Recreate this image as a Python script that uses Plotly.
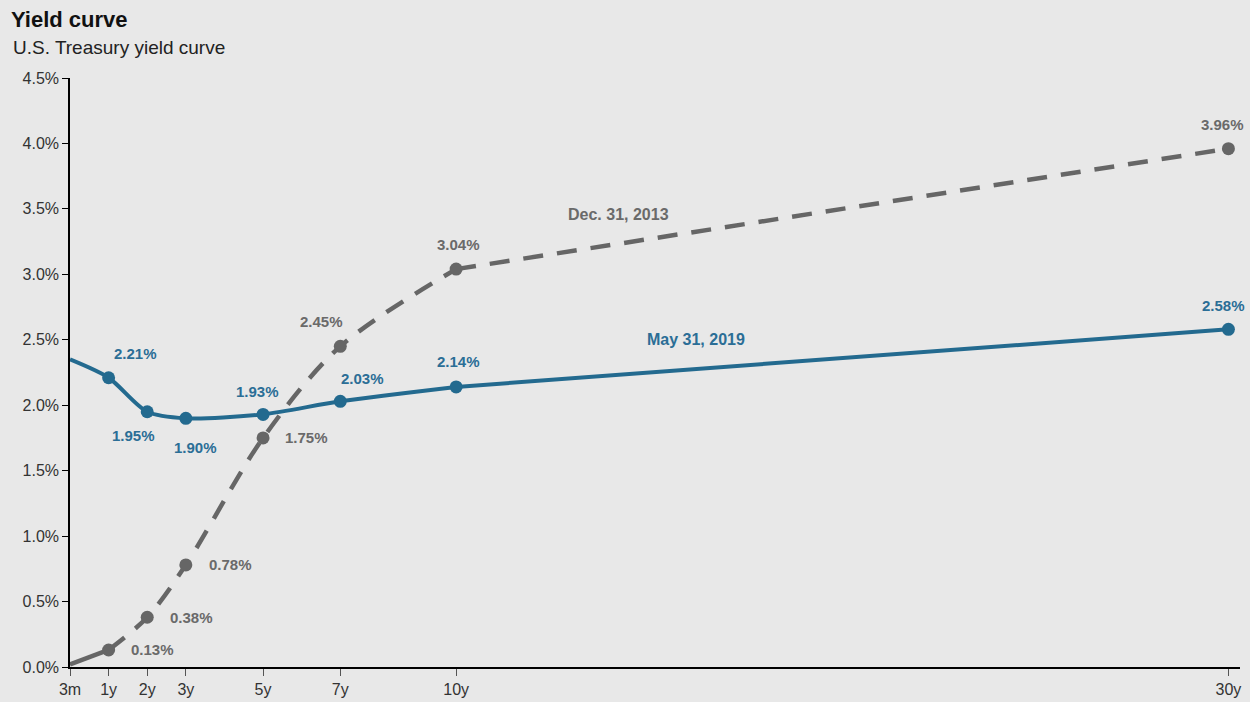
import plotly.graph_objects as go

tenor_labels = ["3m", "1y", "2y", "3y", "5y", "7y", "10y", "30y"]
tenor_pos = [0, 1, 2, 3, 5, 7, 10, 30]
may_2019 = [2.35, 2.21, 1.95, 1.90, 1.93, 2.03, 2.14, 2.58]
dec_2013 = [0.02, 0.13, 0.38, 0.78, 1.75, 2.45, 3.04, 3.96]

blue = "#236a8f"
gray = "#666666"
blue_txt = "#2b6e96"
gray_txt = "#6a6a6a"
FONT = "Liberation Sans, Arial"

fig = go.Figure()

# Dec 2013: solid short-end segment, smooth dashed through 10y, straight from 10y to 30y
fig.add_trace(go.Scatter(
    x=tenor_pos[:2], y=dec_2013[:2], mode="lines",
    line=dict(color=gray, width=4.5),
    hoverinfo="skip", showlegend=False))
fig.add_trace(go.Scatter(
    x=tenor_pos[1:-1], y=dec_2013[1:-1], mode="lines",
    line=dict(color=gray, width=4.5, dash="20px,14px", shape="spline", smoothing=0.9),
    hoverinfo="skip", showlegend=False))
fig.add_trace(go.Scatter(
    x=tenor_pos[-2:], y=dec_2013[-2:], mode="lines",
    line=dict(color=gray, width=4.5, dash="20px,14px"),
    hoverinfo="skip", showlegend=False))
fig.add_trace(go.Scatter(
    x=tenor_pos[1:], y=dec_2013[1:], mode="markers",
    marker=dict(color=gray, size=13), showlegend=False))

fig.add_trace(go.Scatter(
    x=tenor_pos[:-1], y=may_2019[:-1], mode="lines",
    line=dict(color=blue, width=4, shape="spline", smoothing=0.8),
    hoverinfo="skip", showlegend=False))
fig.add_trace(go.Scatter(
    x=tenor_pos[-2:], y=may_2019[-2:], mode="lines",
    line=dict(color=blue, width=4),
    hoverinfo="skip", showlegend=False))
fig.add_trace(go.Scatter(
    x=tenor_pos[1:], y=may_2019[1:], mode="markers",
    marker=dict(color=blue, size=13), showlegend=False))

# label offsets (style only): (xshift, yshift) per tenor index
blue_off = {1: (27, 24), 2: (-14, -24), 3: (10, -29), 4: (-6, 23), 5: (22, 23), 6: (2, 25), 7: (-5, 24)}
gray_off = {1: (44, 0), 2: (44, 0), 3: (45, 0), 4: (43, 0), 5: (-19, 25), 6: (2, 25), 7: (-6, 24)}

anns = []
for i, (dx, dy) in blue_off.items():
    anns.append(dict(x=tenor_pos[i], y=may_2019[i], xref="x", yref="y",
                     text=f"<b>{may_2019[i]:.2f}%</b>", showarrow=False,
                     xshift=dx, yshift=dy, font=dict(color=blue_txt, size=15, family=FONT)))
for i, (dx, dy) in gray_off.items():
    anns.append(dict(x=tenor_pos[i], y=dec_2013[i], xref="x", yref="y",
                     text=f"<b>{dec_2013[i]:.2f}%</b>", showarrow=False,
                     xshift=dx, yshift=dy, font=dict(color=gray_txt, size=15, family=FONT)))

anns.append(dict(x=-0.0525, y=1.0985, xref="paper", yref="paper", xanchor="left", yanchor="middle",
                 text="<b>Yield curve</b>", showarrow=False,
                 font=dict(size=22, color="#111111", family=FONT)))
anns.append(dict(x=-0.0505, y=1.051, xref="paper", yref="paper", xanchor="left", yanchor="middle",
                 text="U.S. Treasury yield curve", showarrow=False,
                 font=dict(size=19, color="#222222", family=FONT)))
anns.append(dict(x=14.2, y=3.46, xref="x", yref="y", text="<b>Dec. 31, 2013</b>", showarrow=False,
                 font=dict(size=16, color=gray_txt, family=FONT)))
anns.append(dict(x=16.2, y=2.5, xref="x", yref="y", text="<b>May 31, 2019</b>", showarrow=False,
                 font=dict(size=16, color=blue_txt, family=FONT)))

fig.update_layout(
    width=1250, height=702,
    paper_bgcolor="#e8e8e8", plot_bgcolor="#e8e8e8",
    margin=dict(l=70, r=10, t=78, b=35),
    annotations=anns,
    font=dict(family=FONT, size=15, color="#333333"),
    xaxis=dict(range=[0, 30.3], tickvals=tenor_pos, ticktext=tenor_labels, automargin=False,
               showgrid=False, zeroline=False, showline=True, linecolor="#000000", linewidth=1.5,
               ticks="outside", ticklen=7, tickcolor="#555555", tickwidth=1,
               tickfont=dict(size=16, color="#333333")),
    yaxis=dict(range=[0, 4.5], tickvals=[0, 0.5, 1, 1.5, 2, 2.5, 3, 3.5, 4, 4.5], automargin=False,
               ticktext=["0.0%", "0.5%", "1.0%", "1.5%", "2.0%", "2.5%", "3.0%", "3.5%", "4.0%", "4.5%"],
               showgrid=False, zeroline=False, showline=True, linecolor="#000000", linewidth=1.5,
               ticks="outside", ticklen=6, tickcolor="#000000",
               tickfont=dict(size=16, color="#333333")),
)

fig.write_html("out.html")
